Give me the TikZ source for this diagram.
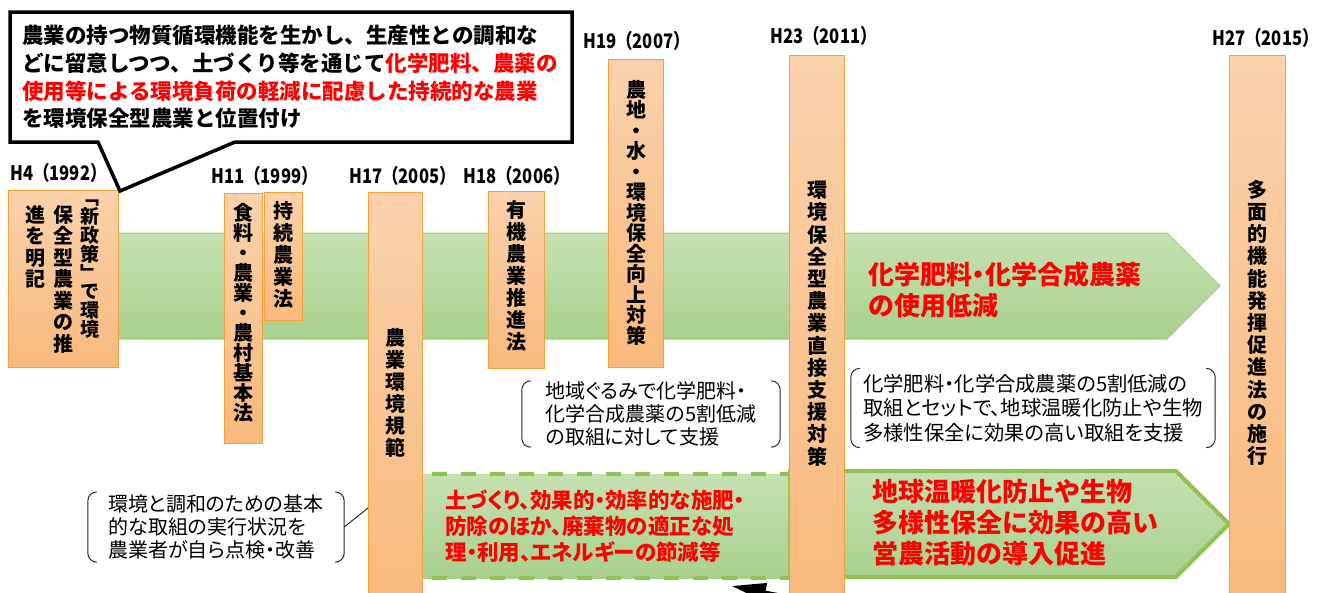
\documentclass[tikz,border=0pt]{standalone}
\usepackage{fontspec}
\setmainfont{Noto Sans CJK JP}
\newfontfamily\pj{Noto Sans CJK JP}[RawFeature=+palt]
\usetikzlibrary{calc,arrows.meta}
\definecolor{orA}{HTML}{FBD1AB}
\definecolor{orB}{HTML}{F8B97C}
\definecolor{orline}{HTML}{F5A23C}
\definecolor{grA}{HTML}{C6E1B1}
\definecolor{grB}{HTML}{A8D08C}
\definecolor{grline}{HTML}{9FCB7E}
\definecolor{grdash}{HTML}{8DC254}
\definecolor{myred}{HTML}{FF0000}
\tikzset{
  orbox/.style={draw=orline, line width=1.2pt, top color=orA, bottom color=orB, inner sep=0pt, anchor=north west},
  vtxt/.style={anchor=north, inner sep=0pt, align=center, font=\bfseries\fontsize{20}{22}\selectfont},
  ylab/.style={anchor=base west, inner sep=0pt, font=\bfseries\fontsize{20}{20}\selectfont},
  band/.style={draw=grline, line width=1pt, top color=grA, bottom color=grB},
  brnode/.style={inner sep=0pt, align=left, font=\pj\fontsize{20}{23}\selectfont},
  brline/.style={draw=black!85, line width=1pt, rounded corners=9pt},
  redtxt/.style={anchor=west, inner sep=0pt, align=left, text=myred},
}
\begin{document}
\begin{tikzpicture}[x=1pt,y=-1pt]
\useasboundingbox (0,0) rectangle (1330,592);
\clip (0,0) rectangle (1330,592);
% green bands
\path[band] (60,233) -- (1167,233) -- (1220,286) -- (1167,339) -- (60,339) -- cycle;
\path[top color=grA, bottom color=grB] (420,474) rectangle (792,578);
\draw[grdash, line width=4pt, dash pattern=on 15pt off 14pt, dash phase=-12pt] (420,474) -- (792,474);
\draw[grdash, line width=4pt, dash pattern=on 15pt off 14pt, dash phase=-12pt] (420,578) -- (792,578);
\path[draw=grdash, line width=4pt, top color=grA, bottom color=grB] (790,471) -- (1176,471) -- (1229,524) -- (1176,577) -- (790,577) -- cycle;
% bottom arrow (cut off)
\coordinate (arrS) at (840,606);
\coordinate (arrE) at (732,586);
\draw[line width=3pt, -{Triangle[length=34pt,width=18pt]}] (arrS) -- (arrE);
% orange boxes
\node[orbox, minimum width=110pt, minimum height=177pt] (h4) at (8,190) {};
\node[orbox, minimum width=38pt, minimum height=250pt] (h11a) at (224,193) {};
\node[orbox, minimum width=38pt, minimum height=128pt] (h11b) at (264,192) {};
\node[orbox, minimum width=54pt, minimum height=410pt] (h17) at (368,192) {};
\node[orbox, minimum width=56pt, minimum height=177pt] (h18) at (488,191) {};
\node[orbox, minimum width=55pt, minimum height=308pt] (h19) at (608,59) {};
\node[orbox, minimum width=55pt, minimum height=547pt] (h23) at (789,55) {};
\node[orbox, minimum width=56pt, minimum height=547pt] (h27) at (1229,55) {};
% vertical texts
\node[vtxt, font=\bfseries\fontsize{19}{18.8}\selectfont] (h4c1) at (90,200) {﹁\\新\\政\\策\\﹂\\で\\環\\境};
\node[vtxt, font=\bfseries\fontsize{20}{21.5}\selectfont] (h4c2) at (63,205) {保\\全\\型\\農\\業\\の\\推};
\node[vtxt, font=\bfseries\fontsize{20}{21.5}\selectfont] (h4c3) at (35,205) {進\\を\\明\\記};
\node[vtxt, font=\bfseries\fontsize{20}{20}\selectfont] (h11at) at (243,203) {食\\料\\・\\農\\業\\・\\農\\村\\基\\本\\法};
\node[vtxt] (h11bt) at (283,201) {持\\続\\農\\業\\法};
\node[vtxt] (h17t) at (395,328) {農\\業\\環\\境\\規\\範};
\node[vtxt] (h18t) at (516,200) {有\\機\\農\\業\\推\\進\\法};
\node[vtxt, font=\bfseries\fontsize{20}{20.5}\selectfont] (h19t) at (636,80) {農\\地\\・\\水\\・\\環\\境\\保\\全\\向\\上\\対\\策};
\node[vtxt, font=\bfseries\fontsize{20}{22.2}\selectfont] (h23t) at (817,181) {環\\境\\保\\全\\型\\農\\業\\直\\接\\支\\援\\対\\策};
\node[vtxt, font=\bfseries\fontsize{20}{22.2}\selectfont] (h27t) at (1257,180) {多\\面\\的\\機\\能\\発\\揮\\促\\進\\法\\の\\施\\行};
% year labels
\node[ylab] (l4) at (10,180) {\scalebox{0.83}[1]{H4（1992）}};
\node[ylab] (l11) at (211,183) {\scalebox{0.83}[1]{H11（1999）}};
\node[ylab] (l17) at (349,183) {\scalebox{0.83}[1]{H17（2005）}};
\node[ylab] (l18) at (463,183) {\scalebox{0.83}[1]{H18（2006）}};
\node[ylab] (l19) at (583,48) {\scalebox{0.83}[1]{H19（2007）}};
\node[ylab] (l23) at (770,43) {\scalebox{0.83}[1]{H23（2011）}};
\node[ylab] (l27) at (1212,45) {\scalebox{0.83}[1]{H27（2015）}};
% bracket notes
\node[brnode, minimum width=256pt, minimum height=70pt] (ta) at (216,527) {環境と調和のための基本\\的な取組の実行状況を\\農業者が自ら点検・改善};
\node[brnode, minimum width=258pt, minimum height=66pt] (tb) at (651,414) {地域ぐるみで化学肥料・\\化学合成農薬の5割低減\\の取組に対して支援};
\node[brnode, minimum width=364pt, minimum height=79pt, font=\pj\fontsize{20.3}{24.5}\selectfont] (tc) at (1033,408) {化学肥料・化学合成農薬の5割低減の\\取組とセットで、地球温暖化防止や生物\\多様性保全に効果の高い取組を支援};
\foreach \n in {ta,tb,tc}{
  \draw[brline] ($(\n.north west)+(9,0)$) -- (\n.north west) -- (\n.south west) -- ($(\n.south west)+(9,0)$);
  \draw[brline] ($(\n.north east)+(-9,0)$) -- (\n.north east) -- (\n.south east) -- ($(\n.south east)+(-9,0)$);
}
\coordinate (h17a) at (368,508);
\draw[black!85, line width=1pt] (ta.east) -- (h17a);
% red texts
\node[redtxt, font=\bfseries\fontsize{26}{31}\selectfont] (rt1) at (868,290) {化学肥料{\pj ・}化学合成農薬\\の使用低減};
\node[redtxt, font=\pj\bfseries\fontsize{21.5}{26}\selectfont] (rt2) at (445,526) {土づくり、効果的・効率的な施肥・\\防除のほか、廃棄物の適正な処\\理・利用、エネルギーの節減等};
\node[redtxt, font=\bfseries\fontsize{26}{31}\selectfont] (rt3) at (872,523) {地球温暖化防止や生物\\多様性保全に効果の高い\\営農活動の導入促進};
% callout
\path[draw=black, line width=3.5pt, fill=white, line join=miter] (10,12) -- (572,12) -- (572,142) -- (235,142) -- (120,191) -- (98,142) -- (10,142) -- cycle;
\node[anchor=west, align=left, inner sep=0pt, font=\bfseries\fontsize{21.5}{27.7}\selectfont] (calltxt) at (22,77) {農業の持つ物質循環機能を生かし、生産性との調和な\\どに留意しつつ、土づくり等を通じて{\color{myred}化学肥料、農薬の}\\{\color{myred}使用等による環境負荷の軽減に配慮した持続的な農業}\\を環境保全型農業と位置付け};
\end{tikzpicture}
\end{document}
